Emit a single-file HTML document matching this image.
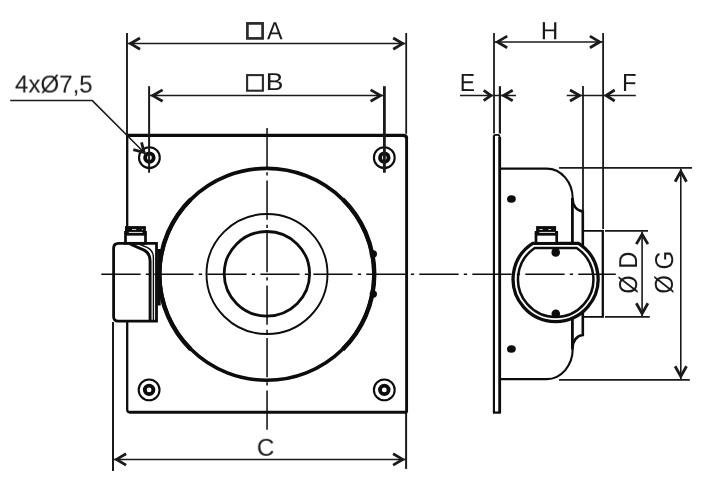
<!DOCTYPE html>
<html>
<head>
<meta charset="utf-8">
<title>Dimensional drawing</title>
<style>
html,body{margin:0;padding:0;background:#fff;}
body{width:725px;height:495px;overflow:hidden;}
svg{display:block;}
text{font-family:"Liberation Sans",sans-serif;fill:#1a1a1a;}
</style>
</head>
<body>
<svg width="725" height="495" viewBox="0 0 725 495">
<rect width="725" height="495" fill="#fff"/>
<g fill="none" stroke="#0c0c0c" stroke-linecap="butt">

<!-- ===== FRONT VIEW ===== -->
<!-- square plate -->
<path d="M127.2 134 V409.5 Q127.2 412.3 130 412.3" stroke-width="2.3"/>
<path d="M126.05 135.4 H403.4 Q406.6 135.4 406.6 138.6" stroke-width="3.3"/>
<path d="M406.6 137.5 V412.6" stroke-width="2.9"/>
<path d="M129.5 412.3 H407.2" stroke-width="2.9"/>

<!-- big circles -->
<ellipse cx="266.8" cy="274.3" rx="107.2" ry="105.95" stroke-width="3.6"/>
<path d="M342.8 199.2 A107.45 106.2 0 0 1 342.8 349.4" stroke-width="4.4"/>
<path d="M190.8 199.2 A107.45 106.2 0 0 0 190.8 349.4" stroke-width="4.4"/>
<ellipse cx="267" cy="274.05" rx="60.5" ry="60" stroke-width="1.9"/>
<ellipse cx="266.9" cy="273.8" rx="42.7" ry="42.3" stroke-width="2.8"/>
<!-- bumps -->
<circle cx="373.3" cy="254" r="3.7" fill="#0c0c0c" stroke="none"/>
<circle cx="373.3" cy="294.1" r="3.7" fill="#0c0c0c" stroke="none"/>

<g id="screws">
<circle cx="149.4" cy="157.7" r="10.4" stroke-width="2.1"/>
<circle cx="149.4" cy="157.7" r="4.3" stroke-width="3.8"/>
<circle cx="384.3" cy="157.7" r="10.4" stroke-width="2.1"/>
<circle cx="384.3" cy="157.7" r="4.3" stroke-width="3.8"/>
<circle cx="149.1" cy="389.9" r="10.4" stroke-width="2.1"/>
<circle cx="149.1" cy="389.9" r="4.3" stroke-width="3.8"/>
<circle cx="384.3" cy="389.9" r="10.4" stroke-width="2.1"/>
<circle cx="384.3" cy="389.9" r="4.3" stroke-width="3.8"/>
</g>

<!-- terminal box -->
<rect x="157.4" y="249" width="3.3" height="56.5" fill="#0c0c0c" stroke="none"/>
<path d="M118.6 243.3 H156.5 V321.1 H118.2 Q113.6 321.1 113.6 316.5 V248.3 Q113.6 243.3 118.6 243.3 Z" fill="#fff" stroke-width="2.8"/>
<path d="M130 244 L143.5 249.8 Q150.1 252.8 150.1 261 V321" stroke-width="2.9"/>
<path d="M139 244 L147.5 247.6 Q153.4 250.6 153.4 258 V321" stroke-width="1.4"/>
<rect x="125.5" y="234.3" width="20" height="9" fill="#fff" stroke-width="2.7"/>
<rect x="124.15" y="231" width="22.7" height="3" fill="#0c0c0c" stroke="none"/>
<rect x="125" y="226.1" width="20.9" height="5.6" fill="#0c0c0c" stroke="none"/>
<rect x="128.8" y="231.9" width="13.7" height="1" fill="#e8e8e8" stroke="none"/>
<rect x="132" y="229" width="4.2" height="0.9" fill="#ddd" stroke="none"/>
<rect x="141.8" y="229" width="1.2" height="0.9" fill="#ccc" stroke="none"/>

<!-- ===== DIMENSIONS front ===== -->
<g stroke-width="1.5" stroke="#1a1a1a">
<path d="M127 33 V135" stroke-width="1.9"/>
<path d="M406.2 33 V133.8" stroke-width="1.8"/>
<path d="M127.5 43.6 H405.6"/>
<path d="M140.0 38.0 L130.5 43.6 L140.0 49.2" stroke-width="2.8" stroke-linejoin="miter" stroke-miterlimit="10"/>
<path d="M393.2 49.2 L402.7 43.6 L393.2 38.0" stroke-width="2.8" stroke-linejoin="miter" stroke-miterlimit="10"/>
<path d="M149.1 86.2 V172.7" stroke-width="2"/>
<path d="M384.4 86.2 V172.7" stroke-width="2.8"/>
<path d="M149.5 95.6 H384"/>
<path d="M162.6 89.9 L152.7 95.6 L162.6 101.3" stroke-width="2.8" stroke-linejoin="miter" stroke-miterlimit="10"/>
<path d="M370.6 101.3 L380.5 95.6 L370.6 89.9" stroke-width="2.8" stroke-linejoin="miter" stroke-miterlimit="10"/>
<path d="M113 322 V470.9" stroke-width="2"/>
<path d="M406.1 413 V468.9" stroke-width="2"/>
<path d="M113.5 459.4 H405.6"/>
<path d="M126.1 453.7 L116.5 459.4 L126.1 465.1" stroke-width="2.8" stroke-linejoin="miter" stroke-miterlimit="10"/>
<path d="M393.1 465.1 L402.7 459.4 L393.1 453.7" stroke-width="2.8" stroke-linejoin="miter" stroke-miterlimit="10"/>
<path d="M10.2 100.6 H92.3 L144.9 153.2"/>
<path d="M133.3 149.7 L144.2 152.5 L141.5 142.4" stroke-width="2.8"/>
</g>

<!-- ===== SIDE VIEW ===== -->
<!-- plate -->
<path d="M493.9 412.5 V136.5 Q493.9 134.9 496 134.9 H497.5 Q499.7 134.9 499.7 137.5 V412.5 Z" fill="#fff" stroke-width="1.6"/>
<path d="M493.9 135.6 V413.3" stroke-width="2.1"/>
<path d="M499.7 137 V413.3" stroke-width="2.8"/>
<path d="M493 412.6 H500.6" stroke-width="2"/>
<!-- housing -->
<path d="M500.5 168.6 H546.7 A26 30 0 0 1 572.7 198.6" stroke-width="2.1"/>
<path d="M500.5 379.1 H546.7 A26 30 0 0 0 572.7 349.1" stroke-width="2.1"/>
<path d="M572.4 198 V244" stroke-width="2.8"/>
<path d="M572.4 317 V349.5" stroke-width="2.8"/>
<path d="M572.6 199 A10.8 12 0 0 0 582.8 211.4 V246" stroke-width="2.6"/>
<path d="M572.6 348 A10.8 12.6 0 0 1 582.8 335 V311" stroke-width="2.6"/>
<path d="M583 230.9 H602 M583 316.9 H602" stroke-width="1.7"/>
<path d="M602.8 230 V317.8" stroke-width="2.3"/>
<ellipse cx="511.4" cy="199" rx="4.4" ry="3.7" fill="#0c0c0c" stroke="none"/>
<ellipse cx="511.4" cy="349" rx="4.4" ry="3.7" fill="#0c0c0c" stroke="none"/>

<!-- terminal box (side) -->
<path d="M532.7 243.3 H578.5 A42.5 42.5 0 1 1 532.7 243.3 Z" fill="#fff" stroke-width="3.3"/>
<path d="M534.7 248 H576.7 A37.7 37.7 0 1 1 534.7 248 Z" stroke-width="2.5"/>
<circle cx="555.7" cy="252.4" r="4.3" fill="#0c0c0c" stroke="none"/>
<circle cx="555.8" cy="313.8" r="4.3" fill="#0c0c0c" stroke="none"/>
<rect x="536" y="234.3" width="20.7" height="9" fill="#fff" stroke-width="2.7"/>
<rect x="534.7" y="231" width="23.4" height="3" fill="#0c0c0c" stroke="none"/>
<rect x="536.1" y="226.1" width="20" height="5.6" fill="#0c0c0c" stroke="none"/>
<rect x="539.4" y="231.9" width="15.6" height="1" fill="#e8e8e8" stroke="none"/>
<rect x="539.4" y="229" width="3.4" height="0.9" fill="#ddd" stroke="none"/>
<rect x="548.3" y="229" width="2.8" height="0.9" fill="#ddd" stroke="none"/>

<!-- center lines -->
<path d="M267.05 128 V430" stroke-width="1.5" stroke-dasharray="39.2 5 3.3 5"/>
<path d="M101.3 274.15 H615.8" stroke-width="1.5" stroke-dasharray="39.3 5.2 3.3 5.2"/>

<!-- ===== DIMENSIONS side ===== -->
<g stroke-width="1.5" stroke="#1a1a1a">
<path d="M494 32.9 V133.6" stroke-width="1.8"/>
<path d="M499.9 86.2 V133.6" stroke-width="2.2"/>
<path d="M583 86.1 V212" stroke-width="1.8"/>
<path d="M603.1 32.9 V229" stroke-width="1.8"/>
<path d="M494.5 41.9 H602.7"/>
<path d="M507.2 36.1 L497.4 41.9 L507.2 47.7" stroke-width="2.8" stroke-linejoin="miter" stroke-miterlimit="10"/>
<path d="M589.9 47.7 L599.7 41.9 L589.9 36.1" stroke-width="2.8" stroke-linejoin="miter" stroke-miterlimit="10"/>
<path d="M460 95.5 H493.5"/>
<path d="M494 95.5 H516"/>
<path d="M483.7 100.7 L491.0 95.5 L483.7 90.3" stroke-width="2.8" stroke-linejoin="miter" stroke-miterlimit="10"/>
<path d="M512.7 90.3 L503.5 95.5 L512.7 100.7" stroke-width="2.8" stroke-linejoin="miter" stroke-miterlimit="10"/>
<path d="M566.7 95.5 H635.8"/>
<path d="M570.0 101.0 L579.6 95.5 L570.0 90.0" stroke-width="2.8" stroke-linejoin="miter" stroke-miterlimit="10"/>
<path d="M614.7 90.0 L606.1 95.5 L614.7 101.0" stroke-width="2.8" stroke-linejoin="miter" stroke-miterlimit="10"/>
<path d="M559.1 167.8 H692" stroke-width="1.7"/>
<path d="M559.1 379.9 H689.8" stroke-width="1.7"/>
<path d="M680.8 168.4 V379.5" stroke-width="1.6"/>
<path d="M686.5 181.7 L680.8 171.4 L675.1 181.7" stroke-width="2.8" stroke-linejoin="miter" stroke-miterlimit="10"/>
<path d="M675.1 366.3 L680.8 376.4 L686.5 366.3" stroke-width="2.8" stroke-linejoin="miter" stroke-miterlimit="10"/>
<path d="M605 230.9 H648" stroke-width="1.7"/>
<path d="M605 316.9 H649.8" stroke-width="1.7"/>
<path d="M642.1 231.5 V316.5" stroke-width="1.6"/>
<path d="M647.9 244.1 L642.1 234.3 L636.3 244.1" stroke-width="2.8" stroke-linejoin="miter" stroke-miterlimit="10"/>
<path d="M636.3 303.3 L642.1 313.6 L647.9 303.3" stroke-width="2.8" stroke-linejoin="miter" stroke-miterlimit="10"/>
</g>
</g>

<!-- ===== TEXT ===== -->
<g font-size="24.3px" style="opacity:0.999">
<text transform="translate(14.9,92.9) rotate(0.2) scale(0.993,1.02)">4xØ7,5</text>
<rect x="247.4" y="23.4" width="15.2" height="15" fill="none" stroke="#2a2a2a" stroke-width="2.7"/>
<text transform="translate(267.05,39.2) rotate(0.2) scale(0.96,1.025)">A</text>
<rect x="247.1" y="75.1" width="15.8" height="15.6" fill="none" stroke="#2a2a2a" stroke-width="2.1"/>
<text transform="translate(265.8,90) rotate(0.2) scale(1.09,1.005)">B</text>
<text transform="translate(256.8,455.8) rotate(0.2) scale(1,1)">C</text>
<text transform="translate(540.8,39.2) rotate(0.2) scale(1.0,1.025)">H</text>
<text transform="translate(459.8,91) rotate(0.2) scale(0.94,1.02)">E</text>
<text transform="translate(621.9,91) rotate(0.2) scale(0.975,1.02)">F</text>
<text transform="translate(636.9,293.8) rotate(-89.8) scale(0.97,1.065)" word-spacing="0.3">Ø D</text>
<text transform="translate(672.8,293.8) rotate(-89.8) scale(0.99,1.065)" word-spacing="-1">Ø G</text>
</g>
</svg>
</body>
</html>
